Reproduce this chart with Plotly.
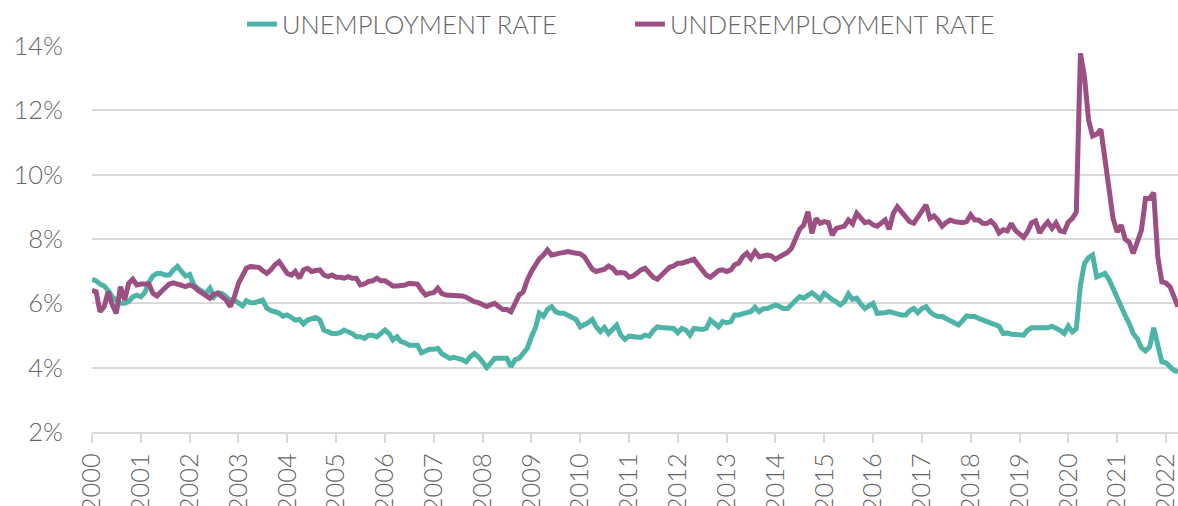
import pandas as pd
import plotly.graph_objects as go

unemployment = [
    6.75, 6.7, 6.6, 6.54, 6.4, 6.2, 6.1, 6.0, 6.0, 6.05, 6.2, 6.25,
    6.2, 6.35, 6.65, 6.85, 6.93, 6.93, 6.88, 6.88, 7.04, 7.15, 6.99, 6.85,
    6.9, 6.57, 6.47, 6.36, 6.3, 6.47, 6.2, 6.33, 6.3, 6.2, 6.1, 6.1,
    6.02, 5.92, 6.08, 6.02, 6.02, 6.05, 6.1, 5.85, 5.77, 5.74, 5.69, 5.6,
    5.64, 5.56, 5.48, 5.5, 5.36, 5.48, 5.53, 5.56, 5.48, 5.17, 5.12, 5.06,
    5.06, 5.09, 5.17, 5.12, 5.06, 4.96, 4.96, 4.91, 5.01, 5.01, 4.96, 5.06,
    5.17, 5.06, 4.86, 4.96, 4.81, 4.77, 4.7, 4.7, 4.7, 4.46, 4.52, 4.57,
    4.57, 4.6, 4.44, 4.34, 4.29, 4.32, 4.29, 4.25, 4.18, 4.34, 4.44, 4.34,
    4.18, 4.0, 4.13, 4.29, 4.29, 4.29, 4.29, 4.03, 4.25, 4.29, 4.44, 4.6,
    4.96, 5.25, 5.7, 5.6, 5.81, 5.9, 5.74, 5.69, 5.69, 5.64, 5.58, 5.5,
    5.27, 5.32, 5.4, 5.5, 5.27, 5.12, 5.25, 5.06, 5.22, 5.32, 5.01, 4.88,
    4.98, 4.96, 4.96, 4.94, 5.01, 4.98, 5.15, 5.27, 5.25, 5.25, 5.25, 5.22,
    5.09, 5.22, 5.17, 5.01, 5.22, 5.19, 5.19, 5.22, 5.48, 5.38, 5.27, 5.43,
    5.4, 5.43, 5.64, 5.64, 5.69, 5.71, 5.74, 5.88, 5.74, 5.83, 5.84, 5.9,
    5.95, 5.9, 5.84, 5.84, 5.95, 6.1, 6.21, 6.16, 6.26, 6.33, 6.23, 6.12,
    6.31, 6.19, 6.12, 6.05, 5.95, 6.05, 6.29, 6.12, 6.16, 5.98, 5.84, 5.92,
    6.0, 5.69, 5.69, 5.71, 5.74, 5.69, 5.67, 5.64, 5.64, 5.77, 5.84, 5.71,
    5.84, 5.9, 5.74, 5.64, 5.59, 5.59, 5.53, 5.48, 5.4, 5.33, 5.46, 5.61,
    5.59, 5.59, 5.53, 5.48, 5.43, 5.39, 5.32, 5.29, 5.06, 5.08, 5.04, 5.04,
    5.04, 5.01, 5.16, 5.24, 5.24, 5.24, 5.27, 5.24, 5.29, 5.24, 5.16, 5.06,
    5.29, 5.11, 5.21, 6.56, 7.24, 7.42, 7.5, 6.82, 6.87, 6.93, 6.74, 6.46,
    6.18, 5.8, 5.63, 5.37, 5.06, 4.9, 4.62, 4.52, 4.64, 5.24, 4.64, 4.18,
    4.15, 4.02, 3.92, 3.87,
]

underemployment = [
    6.4, 6.36, 5.74, 5.9, 6.36, 5.95, 5.69, 6.52, 6.1, 6.62, 6.75, 6.57,
    6.6, 6.62, 6.6, 6.31, 6.23, 6.36, 6.5, 6.6, 6.64, 6.6, 6.52, 6.52,
    6.57, 6.52, 6.41, 6.31, 6.23, 6.16, 6.29, 6.31, 6.2, 6.1, 5.9, 6.2,
    6.62, 6.88, 7.09, 7.14, 7.12, 7.12, 7.02, 6.93, 7.04, 7.2, 7.3, 7.14,
    6.93, 6.88, 6.99, 6.78, 7.04, 7.09, 6.99, 7.02, 7.04, 6.88, 6.83, 6.88,
    6.81, 6.81, 6.78, 6.83, 6.78, 6.78, 6.57, 6.6, 6.68, 6.7, 6.78, 6.7,
    6.7, 6.62, 6.54, 6.54, 6.54, 6.57, 6.62, 6.62, 6.6, 6.41, 6.26, 6.31,
    6.33, 6.47, 6.31, 6.26, 6.26, 6.26, 6.26, 6.23, 6.19, 6.1, 6.05, 6.02,
    5.95, 5.9, 5.95, 6.0, 5.9, 5.81, 5.81, 5.74, 6.0, 6.26, 6.36, 6.73,
    6.99, 7.2, 7.38, 7.5, 7.66, 7.5, 7.54, 7.56, 7.58, 7.61, 7.58, 7.56,
    7.54, 7.45, 7.25, 7.06, 6.99, 7.04, 7.06, 7.16, 7.09, 6.94, 6.96, 6.94,
    6.81, 6.85, 6.96, 7.04, 7.09, 6.94, 6.81, 6.75, 6.88, 6.99, 7.12, 7.16,
    7.25, 7.25, 7.3, 7.33, 7.37, 7.2, 7.04, 6.88, 6.81, 6.94, 7.02, 7.04,
    6.99, 7.04, 7.2, 7.25, 7.45, 7.56, 7.4, 7.61, 7.45, 7.47, 7.5, 7.47,
    7.37, 7.45, 7.5, 7.58, 7.71, 7.97, 8.3, 8.44, 8.85, 8.18, 8.64, 8.49,
    8.54, 8.51, 8.12, 8.33, 8.36, 8.4, 8.59, 8.47, 8.8, 8.67, 8.51, 8.54,
    8.44, 8.4, 8.49, 8.59, 8.3, 8.8, 9.0, 8.85, 8.67, 8.54, 8.49, 8.7,
    8.85, 9.06, 8.64, 8.72, 8.59, 8.4, 8.51, 8.59, 8.54, 8.51, 8.51, 8.54,
    8.75, 8.59, 8.59, 8.49, 8.48, 8.56, 8.43, 8.19, 8.29, 8.25, 8.48, 8.27,
    8.15, 8.05, 8.22, 8.5, 8.56, 8.19, 8.38, 8.53, 8.33, 8.5, 8.25, 8.22,
    8.53, 8.64, 8.84, 13.77, 13.05, 11.7, 11.2, 11.26, 11.41, 10.45, 9.52, 8.64,
    8.22, 8.43, 8.0, 7.9, 7.55, 7.9, 8.27, 9.26, 9.26, 9.44, 7.44, 6.67,
    6.63, 6.51, 6.2, 5.89,
]

start_month = "2000-01-01"
months = pd.date_range(start_month, periods=len(unemployment), freq="MS")

series_names = ["UNEMPLOYMENT RATE", "UNDEREMPLOYMENT RATE"]
series_colors = ["#4FB4A8", "#9B4F82"]

FONT = "Lato"
TEXT_COLOR = "#666666"
GRID = "#D9D9D9"
FSIZE = 25.5

fig = go.Figure()
for name, vals, col in zip(series_names, [unemployment, underemployment], series_colors):
    fig.add_trace(go.Scatter(
        x=months, y=vals, mode="lines", name=name,
        line=dict(color=col, width=5),
    ))

fig.update_layout(
    width=1178, height=506,
    margin=dict(l=92, r=0, t=46, b=74, autoexpand=False),
    paper_bgcolor="white", plot_bgcolor="white",
    font=dict(family=FONT, size=FSIZE, color=TEXT_COLOR, weight=300),
    showlegend=True,
    legend=dict(
        orientation="h", x=0.2054, xref="container", xanchor="left",
        y=0.998, yref="container", yanchor="top",
        entrywidth=343,
        font=dict(family=FONT, size=FSIZE, color=TEXT_COLOR, weight=300),
        bgcolor="rgba(0,0,0,0)",
    ),
)

fig.update_xaxes(
    type="date",
    range=["2000-01-01", "2022-04-01"],
    dtick="M12", tick0="2000-01-01", tickformat="%Y",
    tickangle=-90, automargin=False, ticklabeloverflow="allow",
    showgrid=False,
    showline=True, linecolor=GRID, linewidth=2,
    ticks="outside", ticklen=9, tickcolor=GRID, tickwidth=2,
    tickfont=dict(family=FONT, size=FSIZE, color=TEXT_COLOR, weight=300),
)
fig.update_yaxes(
    range=[2, 14], dtick=2, tick0=2, ticksuffix="%",
    showgrid=True, gridcolor=GRID, gridwidth=2,
    zeroline=False, showline=False, automargin=False,
    ticks="", ticklabelstandoff=28,
    tickfont=dict(family=FONT, size=FSIZE, color=TEXT_COLOR, weight=300),
)

fig.write_html(
    "out.html",
    config={"displayModeBar": False},
    post_script="document.body.style.margin='0';document.body.style.overflow='hidden';",
)
